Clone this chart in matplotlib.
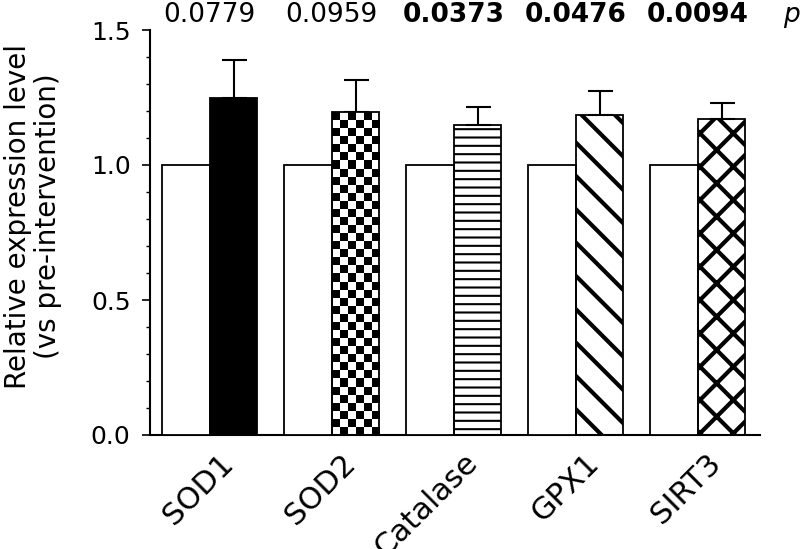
import numpy as np
import matplotlib
matplotlib.use('Agg')
import matplotlib.pyplot as plt
from matplotlib.ticker import MultipleLocator
from matplotlib.transforms import ScaledTranslation

# data
genes = ['SOD1', 'SOD2', 'Catalase', 'GPX1', 'SIRT3']
pre = [1.0, 1.0, 1.0, 1.0, 1.0]
post = [1.248, 1.196, 1.148, 1.185, 1.170]
post_err = [0.141, 0.119, 0.067, 0.089, 0.060]
p_values = ['0.0779', '0.0959', '0.0373', '0.0476', '0.0094']
p_bold = [False, False, True, True, True]
hatches = [None, 'checker', '--', '\\', 'x']
hatch_lw = [0, 0, 1.5, 3.0, 3.0]

plt.rcParams['font.family'] = 'DejaVu Sans'
plt.rcParams['hatch.linewidth'] = 2.5

fig = plt.figure(figsize=(8.06, 5.49), dpi=100)
ax = fig.add_axes([150 / 806, 114 / 549, 610 / 806, 405 / 549])

x = np.arange(len(genes))
w = 0.39

ax.bar(x - w / 2, pre, w, color='white', edgecolor='black', linewidth=1.3, zorder=3)

for i in range(len(genes)):
    h = hatches[i]
    face = 'black' if i == 0 else 'none'
    if h == 'checker':
        bars = ax.bar(x[i] + w / 2, post[i], w, color='none', edgecolor='black',
                      linewidth=1.3, zorder=3)
        b = bars[0]
        nx = 6
        ny = int(round(post[i] * 270 / 8))
        board = (np.indices((ny, nx)).sum(axis=0) % 2).astype(float)
        im = ax.imshow(board, cmap='gray', interpolation='nearest', aspect='auto',
                       extent=(b.get_x(), b.get_x() + b.get_width(), 0, b.get_height()),
                       zorder=2.5)
        im.set_clip_path(b)
    else:
        bars = ax.bar(x[i] + w / 2, post[i], w, color=face, edgecolor='black',
                      linewidth=1.3, hatch=h, zorder=3)
        if h and hasattr(bars[0], 'set_hatch_linewidth'):
            bars[0].set_hatch_linewidth(hatch_lw[i])

ax.errorbar(x + w / 2, post, yerr=[np.zeros(len(post)), post_err], fmt='none',
            ecolor='black', elinewidth=1.5, capsize=9, capthick=1.5, zorder=2)

ax.set_xlim(-0.49, 4.51)
ax.set_ylim(0, 1.5)

for s in ['top', 'right']:
    ax.spines[s].set_visible(False)
for s in ['left', 'bottom']:
    ax.spines[s].set_linewidth(1.5)

ax.yaxis.set_major_locator(MultipleLocator(0.5))
ax.yaxis.set_minor_locator(MultipleLocator(0.1))
ax.yaxis.set_major_formatter(matplotlib.ticker.FormatStrFormatter('%.1f'))
ax.tick_params(axis='y', which='major', length=6, width=1.2, labelsize=18, pad=8)
ax.tick_params(axis='y', which='minor', length=3, width=1.0)

# rotated gene names, right end tucked under the patterned bar
ax.set_xticks(x)
ax.set_xticklabels(genes, rotation=45, ha='right', va='center',
                   rotation_mode='anchor', fontsize=22)
ax.tick_params(axis='x', length=0, pad=17)
offset = ScaledTranslation(0.19, 0, fig.dpi_scale_trans)
for lab in ax.get_xticklabels():
    lab.set_transform(lab.get_transform() + offset)

ax.set_ylabel('Relative expression level\n(vs pre-intervention)', fontsize=20,
              linespacing=1.1)
ax.yaxis.set_label_coords(-0.144, 0.54)

for i in range(len(genes)):
    ax.text(x[i], 1.53, p_values[i], ha='center', va='baseline', fontsize=19,
            fontweight='bold' if p_bold[i] else 'normal', clip_on=False)
ax.text(4.77, 1.53, 'p', ha='center', va='baseline', fontsize=19,
        fontstyle='italic', clip_on=False)

fig.savefig('out.png', dpi=100)
